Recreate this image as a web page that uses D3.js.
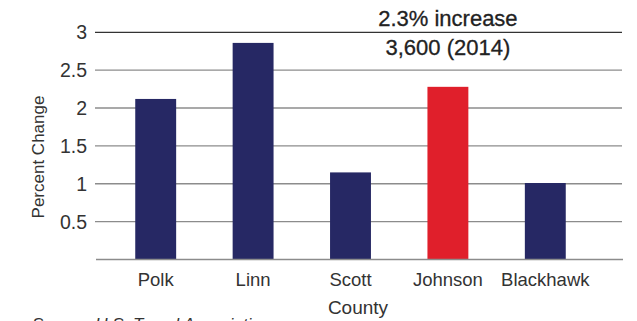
<!DOCTYPE html>
<html><head><meta charset="utf-8">
<script src="https://cdn.jsdelivr.net/npm/d3@7"></script>
<style>
html,body{margin:0;padding:0;background:#fff;}
svg{display:block;font-family:"Liberation Sans",Arial,sans-serif;}
</style></head>
<body>
<script>
const counties = ["Polk","Linn","Scott","Johnson","Blackhawk"];
const percentChange = [2.12, 2.86, 1.15, 2.28, 1.01];
const highlight = ["Johnson"];
const yTicks = [0.5, 1, 1.5, 2, 2.5, 3];
const yTickLabels = ["0.5","1","1.5","2","2.5","3"];
const annotationLines = ["2.3% increase","3,600 (2014)"];
const xTitle = "County";
const yTitle = "Percent Change";
const sourceText = "Source: U.S. Travel Association";

const W = 637, H = 321;
const svg = d3.select("body").append("svg").attr("width", W).attr("height", H);

const y = d3.scaleLinear().domain([0, 3]).range([259.5, 32.3]);
const x = d3.scaleBand().domain(counties).range([107, 594]).paddingInner(0.58).paddingOuter(0.29);

// gridlines
svg.append("g").selectAll("line").data(yTicks).join("line")
  .attr("x1", 95).attr("x2", 622)
  .attr("y1", d => y(d)).attr("y2", d => y(d))
  .attr("stroke", d => d === 3 ? "#333" : "#8c8c8c")
  .attr("stroke-width", d => d === 3 ? 1.3 : 1.4);

// tick labels
svg.append("g").selectAll("text").data(yTicks).join("text")
  .attr("x", 87).attr("y", d => y(d)).attr("dy", "0.36em")
  .attr("text-anchor", "end").attr("font-size", 19.5).attr("fill", "#333")
  .text((d, i) => yTickLabels[i]);

// bars
svg.append("g").selectAll("rect").data(counties).join("rect")
  .attr("x", d => x(d)).attr("width", x.bandwidth())
  .attr("y", (d, i) => y(percentChange[i]))
  .attr("height", (d, i) => y(0) - y(percentChange[i]))
  .attr("fill", d => highlight.includes(d) ? "#e01f2b" : "#262864");

// baseline
svg.append("line").attr("x1", 96).attr("x2", 623)
  .attr("y1", y(0)).attr("y2", y(0)).attr("stroke", "#8c8c8c").attr("stroke-width", 1.5);

// category labels
svg.append("g").selectAll("text").data(counties).join("text")
  .attr("x", d => x(d) + x.bandwidth() / 2).attr("y", 286)
  .attr("text-anchor", "middle").attr("font-size", 18.5).attr("fill", "#333")
  .text(d => d);

// axis titles
svg.append("text").attr("x", 358).attr("y", 314).attr("text-anchor", "middle")
  .attr("font-size", 19).attr("fill", "#333").text(xTitle);
svg.append("text").attr("transform", "translate(44,157) rotate(-90)")
  .attr("text-anchor", "middle").attr("font-size", 17).attr("fill", "#333").text(yTitle);

// annotation
const ax = x("Johnson") + x.bandwidth() / 2;
svg.append("g").selectAll("text").data(annotationLines).join("text")
  .attr("x", ax).attr("y", (d, i) => i === 0 ? 26 : 55)
  .attr("text-anchor", "middle").attr("font-size", 22).attr("fill", "#222")
  .attr("stroke", "#222").attr("stroke-width", 0.3)
  .text(d => d);

// source
svg.append("text").attr("x", 32).attr("y", 330).attr("font-size", 17)
  .attr("font-style", "italic").attr("fill", "#333").text(sourceText);
</script>
</body></html>
